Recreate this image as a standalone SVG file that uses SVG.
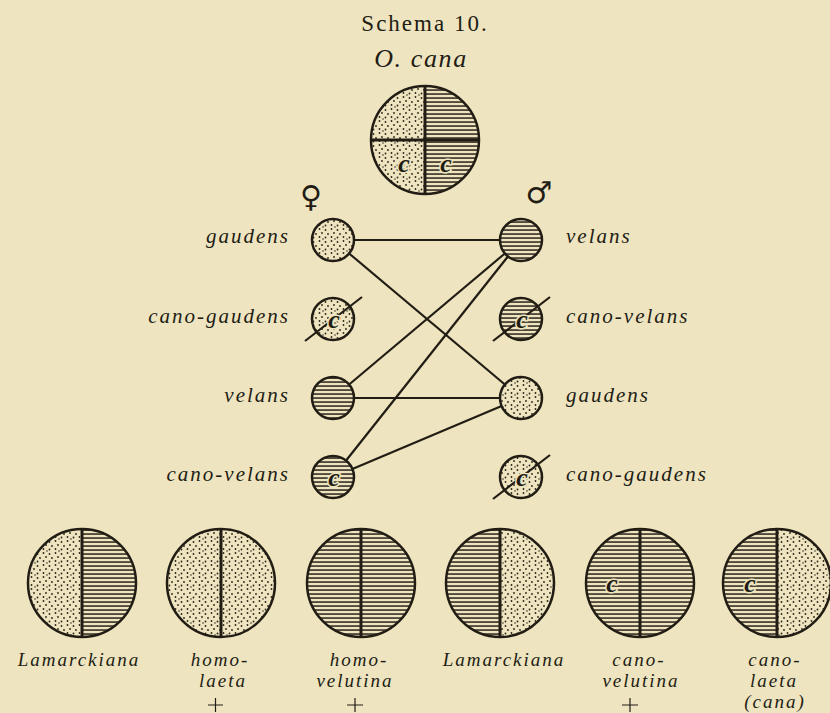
<svg xmlns="http://www.w3.org/2000/svg" width="830" height="713" viewBox="0 0 830 713">
<style>
  .ink{stroke:#221d14;fill:none}
  .edge{stroke:#221d14;stroke-width:2.2;fill:none}
  .rim{stroke:#221d14;stroke-width:2.5;fill:none}
  .div{stroke:#221d14;stroke-width:3;fill:none}
  .st{fill:url(#stip)}
  .ha{fill:url(#hatch)}
  .lbl{font-family:"Liberation Serif","Times New Roman",serif;font-style:italic;font-size:21px;fill:#221d14;letter-spacing:2px}
  .blbl{font-family:"Liberation Serif","Times New Roman",serif;font-style:italic;font-size:19px;fill:#221d14;letter-spacing:2px;text-anchor:middle}
  .c{font-family:"Liberation Serif","Times New Roman",serif;font-style:italic;font-weight:bold;font-size:26px;fill:#221d14;text-anchor:middle;stroke:#eee4c0;stroke-width:3;paint-order:stroke}
  .sym{font-family:"DejaVu Sans",sans-serif;font-size:30px;fill:#221d14;text-anchor:middle}
</style>
<defs>
  <pattern id="stip" patternUnits="userSpaceOnUse" width="12" height="12">
    <rect width="12" height="12" fill="#eee4c0"/>
    <g fill="#2a2419">
      <circle cx="1.5" cy="2" r="0.9"/>
      <circle cx="7.5" cy="1" r="0.9"/>
      <circle cx="4" cy="6" r="0.9"/>
      <circle cx="10" cy="5" r="0.9"/>
      <circle cx="1.5" cy="9.5" r="0.9"/>
      <circle cx="7.5" cy="9" r="0.9"/>
      <circle cx="11" cy="11" r="0.75"/>
    </g>
  </pattern>
  <pattern id="hatch" patternUnits="userSpaceOnUse" width="8" height="4">
    <rect width="8" height="4" fill="#eee4c0"/>
    <rect y="1.3" width="8" height="1.5" fill="#2a2419"/>
  </pattern>
</defs>
<rect width="830" height="713" fill="#eee4c0"/>

<g id="title">
  <text x="425" y="31" text-anchor="middle" style="font-family:'Liberation Serif','Times New Roman',serif;font-size:23px;fill:#221d14;letter-spacing:2px">Schema 10.</text>
  <text x="421" y="67" text-anchor="middle" style="font-family:'Liberation Serif','Times New Roman',serif;font-style:italic;font-size:26px;fill:#221d14;letter-spacing:1.6px">O. cana</text>
</g>

<g id="cana">
  <path class="st" d="M425,140 L425,86 A54,54 0 0 0 371,140 Z"/>
  <path class="ha" d="M425,140 L425,86 A54,54 0 0 1 479,140 Z"/>
  <path class="st" d="M425,140 L371,140 A54,54 0 0 0 425,194 Z"/>
  <path class="ha" d="M425,140 L479,140 A54,54 0 0 1 425,194 Z"/>
  <text class="c" x="404" y="172">c</text>
  <text class="c" x="446" y="172">c</text>
  <line class="div" x1="425" y1="86" x2="425" y2="194"/>
  <line class="div" x1="371" y1="140" x2="479" y2="140"/>
  <circle class="rim" cx="425" cy="140" r="54" stroke-width="2.8"/>
</g>

<g id="female"><text class="sym" x="311" y="207">♀</text></g>
<g id="male"><text class="sym" x="539" y="203">♂</text></g>

<g id="connectors" class="edge">
  <line x1="354" y1="240" x2="500" y2="240"/>
  <line x1="349.1" y1="253.5" x2="504.9" y2="384.5"/>
  <line x1="504.9" y1="253.5" x2="349.1" y2="384.5"/>
  <line x1="507.9" y1="256.5" x2="346.1" y2="460.5"/>
  <line x1="354" y1="398" x2="500" y2="398"/>
  <line x1="352.4" y1="468.9" x2="501.6" y2="406.1"/>
</g>

<g id="f-gaudens">
  <circle class="st" cx="333" cy="240" r="21"/>
  <circle class="rim" cx="333" cy="240" r="21"/>
  <text class="lbl" x="290" y="243" text-anchor="end">gaudens</text>
</g>
<g id="f-cano-gaudens">
  <circle class="st" cx="333" cy="319" r="21"/>
  <circle class="rim" cx="333" cy="319" r="21"/>
  <line class="edge" x1="305" y1="341" x2="362" y2="297"/>
  <text class="c" x="334" y="328">c</text>
  <text class="lbl" x="290" y="323" text-anchor="end">cano-gaudens</text>
</g>
<g id="f-velans">
  <circle class="ha" cx="333" cy="398" r="21"/>
  <circle class="rim" cx="333" cy="398" r="21"/>
  <text class="lbl" x="290" y="402" text-anchor="end">velans</text>
</g>
<g id="f-cano-velans">
  <circle class="ha" cx="333" cy="477" r="21"/>
  <circle class="rim" cx="333" cy="477" r="21"/>
  <text class="c" x="334" y="486">c</text>
  <text class="lbl" x="290" y="481" text-anchor="end">cano-velans</text>
</g>

<g id="m-velans">
  <circle class="ha" cx="521" cy="240" r="21"/>
  <circle class="rim" cx="521" cy="240" r="21"/>
  <text class="lbl" x="566" y="243">velans</text>
</g>
<g id="m-cano-velans">
  <circle class="ha" cx="521" cy="319" r="21"/>
  <circle class="rim" cx="521" cy="319" r="21"/>
  <line class="edge" x1="493" y1="341" x2="550" y2="297"/>
  <text class="c" x="522" y="328">c</text>
  <text class="lbl" x="566" y="323">cano-velans</text>
</g>
<g id="m-gaudens">
  <circle class="st" cx="521" cy="398" r="21"/>
  <circle class="rim" cx="521" cy="398" r="21"/>
  <text class="lbl" x="566" y="402">gaudens</text>
</g>
<g id="m-cano-gaudens">
  <circle class="st" cx="521" cy="477" r="21"/>
  <circle class="rim" cx="521" cy="477" r="21"/>
  <line class="edge" x1="493" y1="499" x2="550" y2="455"/>
  <text class="c" x="522" y="486">c</text>
  <text class="lbl" x="566" y="481">cano-gaudens</text>
</g>

<g id="o-lamarckiana-1">
  <path class="st" d="M82,529 A54,54 0 0 0 82,637 Z"/>
  <path class="ha" d="M82,529 A54,54 0 0 1 82,637 Z"/>
  <line class="div" x1="82" y1="529" x2="82" y2="637"/>
  <circle class="rim" cx="82" cy="583" r="54" stroke-width="2.6"/>
  <text class="blbl" x="79" y="666">Lamarckiana</text>
</g>
<g id="o-homo-laeta">
  <path class="st" d="M221,529 A54,54 0 0 0 221,637 Z"/>
  <path class="st" d="M221,529 A54,54 0 0 1 221,637 Z"/>
  <line class="div" x1="221" y1="529" x2="221" y2="637"/>
  <circle class="rim" cx="221" cy="583" r="54" stroke-width="2.6"/>
  <text class="blbl" x="220" y="666">homo-</text>
  <text class="blbl" x="223" y="687">laeta</text>
  <path class="ink" stroke-width="1.2" d="M208,705 H223 M215.5,698 V712"/>
</g>
<g id="o-homo-velutina">
  <path class="ha" d="M361,529 A54,54 0 0 0 361,637 Z"/>
  <path class="ha" d="M361,529 A54,54 0 0 1 361,637 Z"/>
  <line class="div" x1="361" y1="529" x2="361" y2="637"/>
  <circle class="rim" cx="361" cy="583" r="54" stroke-width="2.6"/>
  <text class="blbl" x="359" y="666">homo-</text>
  <text class="blbl" x="355" y="687">velutina</text>
  <path class="ink" stroke-width="1.2" d="M347,705 H363 M355,698 V712"/>
</g>
<g id="o-lamarckiana-2">
  <path class="ha" d="M500,529 A54,54 0 0 0 500,637 Z"/>
  <path class="st" d="M500,529 A54,54 0 0 1 500,637 Z"/>
  <line class="div" x1="500" y1="529" x2="500" y2="637"/>
  <circle class="rim" cx="500" cy="583" r="54" stroke-width="2.6"/>
  <text class="blbl" x="504" y="666">Lamarckiana</text>
</g>
<g id="o-cano-velutina">
  <path class="ha" d="M640,529 A54,54 0 0 0 640,637 Z"/>
  <path class="ha" d="M640,529 A54,54 0 0 1 640,637 Z"/>
  <text class="c" x="612" y="592">c</text>
  <line class="div" x1="640" y1="529" x2="640" y2="637"/>
  <circle class="rim" cx="640" cy="583" r="54" stroke-width="2.6"/>
  <text class="blbl" x="639" y="666">cano-</text>
  <text class="blbl" x="641" y="687">velutina</text>
  <path class="ink" stroke-width="1.2" d="M622,705 H638 M630,698 V712"/>
</g>
<g id="o-cano-laeta">
  <path class="ha" d="M777,529 A54,54 0 0 0 777,637 Z"/>
  <path class="st" d="M777,529 A54,54 0 0 1 777,637 Z"/>
  <text class="c" x="750" y="592">c</text>
  <line class="div" x1="777" y1="529" x2="777" y2="637"/>
  <circle class="rim" cx="777" cy="583" r="54" stroke-width="2.6"/>
  <text class="blbl" x="775" y="666">cano-</text>
  <text class="blbl" x="774" y="687">laeta</text>
  <text class="blbl" x="775" y="708">(cana)</text>
</g>
</svg>
